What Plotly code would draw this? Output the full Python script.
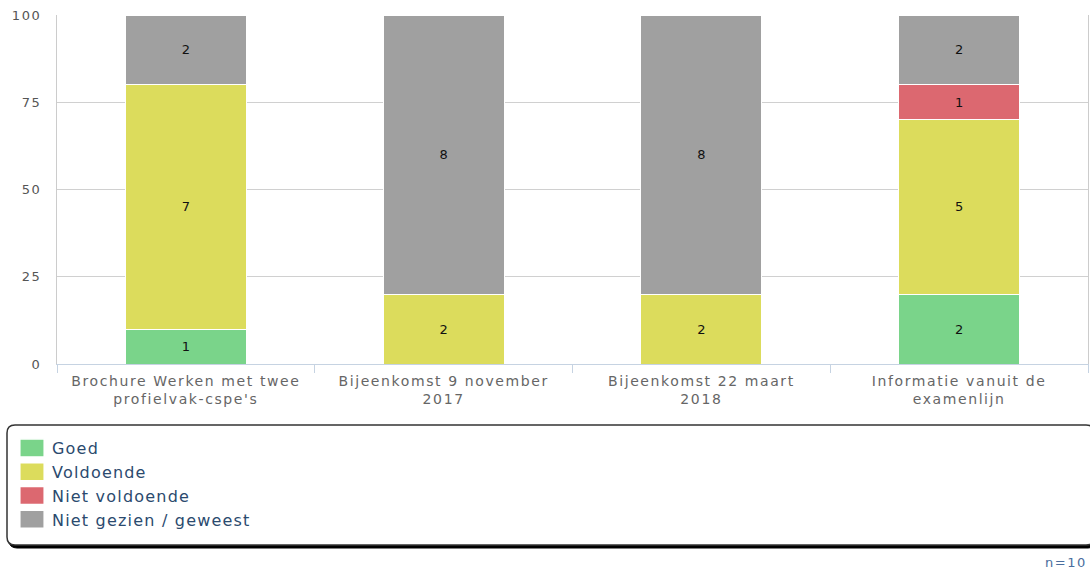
import plotly.graph_objects as go

categories = ["Brochure Werken met twee<br>profielvak-cspe's",
              "Bijeenkomst 9 november<br>2017",
              "Bijeenkomst 22 maart<br>2018",
              "Informatie vanuit de<br>examenlijn"]
n_total = 10
series_names = ["Goed", "Voldoende", "Niet voldoende", "Niet gezien / geweest"]
goed = [1, 0, 0, 2]
voldoende = [7, 2, 2, 5]
niet_voldoende = [0, 0, 0, 1]
niet_gezien = [2, 8, 8, 2]
colors = ["#7ad48a", "#dcdc5c", "#dc6870", "#a0a0a0"]
y_ticks = [0, 25, 50, 75, 100]

W, H = 1090, 572
L, R, T, B = 57, 2, 15, 208
pw, ph = W - L - R, H - T - B

def px(x):
    return (x - L) / pw

def py(y):
    return (H - B - y) / ph

fig = go.Figure()
for name, vals, col in zip(series_names, [goed, voldoende, niet_voldoende, niet_gezien], colors):
    fig.add_trace(go.Bar(
        x=categories, y=vals, name=name,
        marker=dict(color=col, line=dict(color="white", width=1)),
        text=[str(v) if v else "" for v in vals],
        textposition="inside", insidetextanchor="middle",
        textfont=dict(color="#111", size=13, family="DejaVu Sans"),
        hoverinfo="skip",
    ))

def rounded(x0, y0, x1, y1, r):
    return (f"M {px(x0+r)} {py(y0)} L {px(x1-r)} {py(y0)} Q {px(x1)} {py(y0)} {px(x1)} {py(y0+r)} "
            f"L {px(x1)} {py(y1-r)} Q {px(x1)} {py(y1)} {px(x1-r)} {py(y1)} "
            f"L {px(x0+r)} {py(y1)} Q {px(x0)} {py(y1)} {px(x0)} {py(y1-r)} "
            f"L {px(x0)} {py(y0+r)} Q {px(x0)} {py(y0)} {px(x0+r)} {py(y0)} Z")

shapes = [
    dict(type="path", xref="paper", yref="paper", path=rounded(9, 428, 1096, 548, 8),
         fillcolor="black", line=dict(color="black", width=1), layer="below"),
    dict(type="path", xref="paper", yref="paper", path=rounded(7, 425, 1094, 545, 8),
         fillcolor="white", line=dict(color="#333", width=1.5), layer="below"),
]

fig.update_layout(
    width=W, height=H,
    margin=dict(l=L, r=R, t=T, b=B, autoexpand=False),
    barmode="stack", barnorm="percent", bargap=0.53,
    plot_bgcolor="white", paper_bgcolor="white",
    font=dict(family="DejaVu Sans", size=13, color="#666"),
    showlegend=True,
    legend=dict(x=px(12), y=py(431), xanchor="left", yanchor="top",
                font=dict(size=16, color="#2b4a6e", family="DejaVu Sans"),
                bgcolor="rgba(0,0,0,0)", borderwidth=0, tracegroupgap=0,
                traceorder="normal"),
    xaxis=dict(showgrid=False, showline=True, linecolor="#c6d3e2", linewidth=1,
               ticks="outside", tickson="boundaries", ticklen=8, tickcolor="#c6d3e2",
               ticklabelstandoff=4,
               tickfont=dict(size=14, color="#666")),
    yaxis=dict(range=[0, 100], tickvals=y_ticks, showgrid=True, gridcolor="#d0d0d0",
               gridwidth=1, showline=True, mirror=True, linecolor="#cccccc",
               zeroline=False, ticks="", ticklabelstandoff=12,
               tickfont=dict(size=13, color="#555")),
    shapes=shapes,
    annotations=[dict(text="n=" + str(n_total), xref="paper", yref="paper",
                      x=px(1086), y=py(562), xanchor="right", yanchor="middle",
                      showarrow=False, font=dict(size=13, color="#4a6e9e"))],
)

post = (
    "var s=document.createElement('style');"
    "s.innerHTML='html,body{margin:0;padding:0;overflow:hidden}"
    " .xtick text{letter-spacing:1.6px}"
    " .ytick text{letter-spacing:1.6px}"
    " .annotation-text{letter-spacing:1.5px}"
    " .legendtext{letter-spacing:1.2px}"
    " .legendpoints path{transform:translate(20px,0px) scale(2.08,1.5)}';"
    "document.head.appendChild(s);"
    "document.querySelectorAll('.legend .scrollbox, .legend').forEach(function(e){e.removeAttribute('clip-path');});"
)
fig.write_html("out.html", post_script=post, config={"displayModeBar": False})
